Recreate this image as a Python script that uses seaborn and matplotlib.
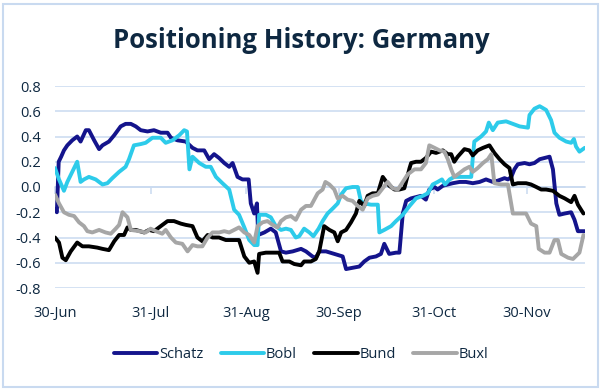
import pandas as pd
import matplotlib
matplotlib.use("Agg")
import matplotlib.pyplot as plt
import matplotlib.patches as patches
import seaborn as sns

# day offsets from 30-Jun and positioning values
start = pd.Timestamp("2024-06-30")

schatz_days = [0, 0.6, 1.2, 2, 2.9, 4, 5.6, 7.2, 8.3, 10, 11, 12.7, 14.3, 15.4, 17.5, 19.2, 21.3, 22.9,
               24.6, 26.2, 27.8, 30, 32.1, 34.3, 36.5, 37.6, 39.7, 42.4, 44.6, 46.2, 48.4, 50, 51.6, 53.2,
               54.9, 56.5, 57.6, 59.2, 60.8, 62.8, 63.5, 64.6, 65.5, 65.9, 67.9, 70, 71.6, 73.3, 74.9,
               77.1, 79.8, 81.4, 83.5, 84.6, 85.7, 87.9, 90.6, 93.3, 94.4, 96.5, 98.7, 100.3, 102, 104.1,
               105.7, 106.8, 108.4, 110.6, 111.7, 112.8, 113.9, 115.5, 117.1, 118.7, 120.3, 121.4, 123.1,
               124.1, 125.8, 127.4, 129, 131.2, 133.3, 135.5, 137.7, 139.8, 142, 143.6, 145.8, 146.9,
               148, 149, 150.1, 152.3, 153.9, 155.5, 157.2, 158.8, 160.4, 161.5, 162.6, 163.6, 165.3,
               167.4, 168.5, 169.6, 171.8]
schatz_vals = [-0.18, -0.2, 0.2, 0.24, 0.29, 0.33, 0.37, 0.40, 0.36, 0.45, 0.45, 0.37, 0.30, 0.33, 0.36,
               0.41, 0.48, 0.50, 0.50, 0.48, 0.45, 0.44, 0.45, 0.43, 0.43, 0.39, 0.37, 0.36, 0.31, 0.29,
               0.29, 0.22, 0.26, 0.23, 0.19, 0.16, 0.19, 0.08, 0.06, 0.06, -0.13, -0.21, -0.13, -0.38,
               -0.36, -0.33, -0.36, -0.51, -0.52, -0.51, -0.49, -0.51, -0.55, -0.56, -0.51, -0.51, -0.53,
               -0.55, -0.65, -0.64, -0.63, -0.59, -0.56, -0.55, -0.53, -0.45, -0.53, -0.52, -0.52, -0.21,
               -0.11, -0.09, -0.08, -0.07, -0.10, -0.02, 0.0, -0.02, 0.01, 0.02, 0.03, 0.04, 0.04, 0.03,
               0.04, 0.06, 0.04, 0.05, 0.07, 0.06, 0.08, 0.14, 0.18, 0.19, 0.18, 0.19, 0.22, 0.23, 0.24,
               0.14, -0.13, -0.22, -0.21, -0.20, -0.26, -0.35, -0.35]

bobl_days = [0, 1.3, 2.9, 4, 5.6, 7.2, 8.3, 9.4, 11, 13.2, 15.4, 17, 18.6, 20.8, 22.9, 24, 25.6, 27.8,
             29.4, 31.6, 34.3, 35.9, 38.1, 40.3, 41.9, 42.8, 43.6, 44.6, 46.8, 48.9, 50.5, 52.2, 54.3,
             56.5, 58.1, 59.7, 61.4, 63, 64.6, 65.7, 66.2, 68.4, 70, 71.6, 73.3, 74.9, 76.5, 78.1, 79.2,
             80.8, 82.5, 83.8, 85.5, 86.8, 88.4, 90.1, 91.7, 92.8, 94.4, 96.5, 98.2, 99.2, 100.3, 102.5,
             104.7, 105.2, 106.8, 109, 110.6, 112.8, 115, 117.1, 119.3, 120.9, 122.5, 124.1, 125.5,
             126.5, 128, 129.5, 131.2, 133.3, 135, 135.5, 136, 138.2, 139.8, 140.7, 142, 143.6, 146.3,
             148.5, 150.7, 153.4, 153.9, 155.5, 157.2, 159.3, 160.9, 162, 163.6, 165.8, 167.4, 168.3,
             169, 170.1, 171.8]
bobl_vals = [0.15, 0.06, -0.03, 0.04, 0.12, 0.20, 0.04, 0.06, 0.08, 0.06, 0.02, 0.03, 0.07, 0.12, 0.16,
             0.22, 0.33, 0.34, 0.35, 0.39, 0.39, 0.35, 0.37, 0.41, 0.45, 0.44, 0.14, 0.24, 0.19, 0.16,
             0.16, 0.08, 0.03, -0.02, -0.18, -0.22, -0.32, -0.42, -0.46, -0.46, -0.22, -0.22, -0.24,
             -0.31, -0.34, -0.33, -0.34, -0.40, -0.39, -0.33, -0.36, -0.39, -0.33, -0.27, -0.21, -0.17,
             -0.13, -0.06, -0.01, 0.0, 0.0, -0.11, -0.13, -0.14, -0.14, -0.36, -0.34, -0.31, -0.27,
             -0.22, -0.15, -0.09, -0.07, -0.05, 0.02, 0.04, 0.06, 0.02, 0.06, 0.08, 0.08, 0.08, 0.08,
             0.23, 0.36, 0.40, 0.44, 0.51, 0.45, 0.51, 0.52, 0.50, 0.48, 0.47, 0.57, 0.62, 0.64, 0.61,
             0.53, 0.43, 0.39, 0.36, 0.35, 0.38, 0.32, 0.28, 0.31]

bund_days = [0, 1.3, 2.4, 3.5, 5.1, 7.2, 8.9, 11, 13.7, 15.4, 17.5, 19.2, 20.8, 22.4, 23.5, 24.6, 26.2,
             28.9, 30.5, 32.1, 34.3, 36.5, 38.6, 40.8, 42.4, 44.6, 46.2, 47.8, 49.5, 51.1, 53.2, 55.4,
             58.1, 59.7, 61.4, 63, 64.6, 65.7, 66.2, 68.4, 70.6, 72.7, 73.8, 76, 77.6, 79.8, 80.8, 83,
             84.6, 85.7, 87.3, 89, 90.6, 91.7, 92.8, 94.4, 96, 97.6, 98.7, 100.3, 101.4, 103, 104.7,
             106.3, 108.4, 110.1, 111.7, 113.3, 115, 115.5, 117.1, 118.7, 120.3, 122, 123.6, 125.8,
             127.4, 128.5, 129.5, 130.6, 132.8, 134.4, 135.5, 137.1, 138.8, 140.9, 142.5, 144.2, 145.8,
             147.4, 148.5, 150.1, 152.8, 154.4, 156.1, 157.7, 159.3, 161.5, 163.6, 165.3, 167.4, 168.5,
             169.6, 171.4]
bund_vals = [-0.40, -0.44, -0.56, -0.58, -0.51, -0.44, -0.47, -0.47, -0.48, -0.49, -0.50, -0.43, -0.38,
             -0.38, -0.32, -0.34, -0.34, -0.36, -0.34, -0.35, -0.31, -0.27, -0.27, -0.29, -0.30, -0.31,
             -0.40, -0.43, -0.38, -0.40, -0.40, -0.42, -0.42, -0.42, -0.55, -0.60, -0.59, -0.68, -0.53,
             -0.52, -0.52, -0.52, -0.59, -0.59, -0.61, -0.62, -0.59, -0.59, -0.57, -0.51, -0.31, -0.34,
             -0.36, -0.43, -0.36, -0.34, -0.28, -0.21, -0.11, -0.15, -0.07, -0.05, -0.05, 0.08, 0.01,
             -0.02, -0.02, -0.01, 0.15, 0.19, 0.20, 0.20, 0.23, 0.28, 0.27, 0.29, 0.26, 0.26, 0.20, 0.24,
             0.30, 0.29, 0.25, 0.29, 0.31, 0.33, 0.27, 0.22, 0.18, 0.15, 0.02, 0.03, 0.03, 0.02, 0.0,
             -0.02, -0.02, -0.03, -0.07, -0.09, -0.12, -0.07, -0.14, -0.21]

buxl_days = [0, 1.3, 2.9, 4.5, 6.2, 7.8, 9.4, 10.5, 12.1, 14.3, 16.4, 18.1, 19.7, 20.8, 21.9, 23.5,
             24.6, 27.3, 29.4, 31, 32.7, 34.8, 35.9, 37.6, 39.2, 41.3, 43, 44.6, 46.2, 47.8, 49.5, 51.1,
             53.2, 54.9, 56.5, 58.1, 59.7, 61.4, 63, 64.6, 65.7, 67.3, 68.9, 70.6, 72.2, 73.3, 74.9,
             76.5, 78.1, 79.8, 81.4, 83, 84.1, 85.2, 86.8, 87.7, 89, 90.6, 91.7, 93.3, 94.9, 96.5, 98.2,
             99.8, 101.4, 103, 104.7, 106.3, 107.9, 109.5, 111.2, 112.8, 114.4, 116.6, 118.7, 120.3,
             121.4, 123.1, 124.7, 126.3, 127.4, 128.5, 129.5, 131.2, 132.8, 134.4, 135.5, 137.1, 138.8,
             140.4, 141.5, 142.5, 144.7, 146.9, 148.5, 150.7, 152.8, 154.4, 156.1, 156.9, 158.8, 160.4,
             162, 163.1, 164.2, 166.4, 168, 170.1, 171.4]
buxl_vals = [-0.06, -0.13, -0.20, -0.22, -0.23, -0.28, -0.31, -0.35, -0.36, -0.34, -0.36, -0.37, -0.33,
             -0.30, -0.20, -0.24, -0.34, -0.35, -0.36, -0.33, -0.35, -0.37, -0.34, -0.40, -0.44, -0.45,
             -0.51, -0.46, -0.47, -0.47, -0.40, -0.36, -0.36, -0.35, -0.36, -0.34, -0.32, -0.36, -0.38,
             -0.44, -0.31, -0.28, -0.27, -0.30, -0.32, -0.27, -0.24, -0.23, -0.26, -0.18, -0.15, -0.15,
             -0.10, -0.05, -0.02, 0.04, 0.02, -0.02, -0.09, -0.07, -0.10, -0.11, -0.15, -0.18, -0.09,
             -0.07, -0.06, -0.01, 0.04, -0.01, -0.02, 0.04, 0.10, 0.14, 0.14, 0.19, 0.33, 0.31, 0.29,
             0.28, 0.22, 0.14, 0.08, 0.11, 0.14, 0.16, 0.12, 0.15, 0.19, 0.22, 0.26, 0.03, 0.02, 0.02,
             -0.21, -0.21, -0.21, -0.29, -0.31, -0.49, -0.52, -0.52, -0.42, -0.42, -0.53, -0.56, -0.57,
             -0.52, -0.38]

series = ["Schatz", "Bobl", "Bund", "Buxl"]
colors = ["#14148C", "#2DCBEA", "#000000", "#A6A6A6"]
tick_dates = ["2024-06-30", "2024-07-31", "2024-08-31", "2024-09-30", "2024-10-31", "2024-11-30"]
tick_labels = ["30-Jun", "31-Jul", "31-Aug", "30-Sep", "31-Oct", "30-Nov"]

frames = []
for name, days, vals in zip(series,
                            [schatz_days, bobl_days, bund_days, buxl_days],
                            [schatz_vals, bobl_vals, bund_vals, buxl_vals]):
    frames.append(pd.DataFrame({
        "date": start + pd.to_timedelta(days, unit="D"),
        "value": vals,
        "series": name,
    }))
df = pd.concat(frames, ignore_index=True)

sns.set_style("white")
plt.rcParams["font.family"] = ["Open Sans", "DejaVu Sans"]
text_col = "#0E2841"
grid_col = "#C9DAF0"

fig = plt.figure(figsize=(6.02, 3.90), dpi=100)
ax = fig.add_axes([55 / 602, 1 - 288 / 390, 530 / 602, 202 / 390])

# zero line with small tick marks at month ends (drawn under the series)
zero_ax = ax.secondary_xaxis(0.5)
zero_ax.set_zorder(0.5)
zero_ax.set_xticks(pd.to_datetime(tick_dates))
zero_ax.set_xticklabels([])
zero_ax.xaxis.set_ticks_position("bottom")
zero_ax.tick_params(axis="x", which="both", direction="out", length=5, width=1.1, color=grid_col,
                    labelbottom=False, labeltop=False)
zero_ax.tick_params(axis="x", which="minor", length=0)
for s in zero_ax.spines.values():
    s.set_color(grid_col)
    s.set_linewidth(1.1)

sns.lineplot(data=df, x="date", y="value", hue="series", hue_order=series,
             palette=colors, estimator=None, sort=False, linewidth=2.8, ax=ax, zorder=3)

ax.set_ylim(-0.8, 0.8)
ax.set_yticks([-0.8, -0.6, -0.4, -0.2, 0.0, 0.2, 0.4, 0.6, 0.8])
ax.set_yticklabels([f"{v:.1f}" for v in ax.get_yticks()])
ax.set_xlim(start, start + pd.Timedelta(days=171.9))
ax.set_xticks(pd.to_datetime(tick_dates))
ax.set_xticklabels(tick_labels)
ax.set_xlabel("")
ax.set_ylabel("")
ax.grid(axis="y", color=grid_col, linewidth=1.1)
ax.set_axisbelow(True)
for s in ax.spines.values():
    s.set_visible(False)
ax.tick_params(axis="both", length=0, labelsize=10.5, labelcolor=text_col)
ax.tick_params(axis="x", pad=13)
ax.tick_params(axis="y", pad=10)

ax.legend_.remove()
handles, labels = ax.get_legend_handles_labels()
fig.legend(handles, labels, loc="center", bbox_to_anchor=(0.5, 1 - 355 / 390), ncol=4,
           frameon=False, fontsize=10.5, handlelength=3.0, handletextpad=0.1, columnspacing=1.2,
           labelcolor=text_col)

fig.text(0.5, 1 - 40 / 390, "Positioning History: Germany", ha="center", va="center",
         fontsize=18.5, fontweight="bold", color=text_col)

fig.patches.append(patches.Rectangle((3 / 602, 3 / 390), 595 / 602, 383 / 390, transform=fig.transFigure,
                                     fill=False, edgecolor=grid_col, linewidth=1.5))

fig.savefig("out.png", dpi=100)
